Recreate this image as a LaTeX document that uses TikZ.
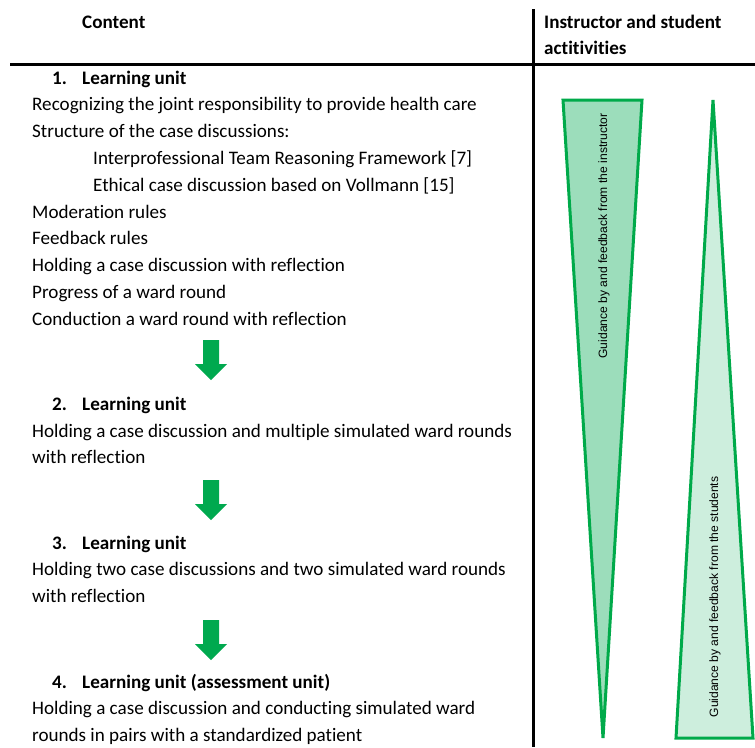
\documentclass[tikz,border=0pt]{standalone}
\usepackage{fontspec}
\setmainfont[Ligatures={NoCommon}]{Carlito}
\newfontfamily\arialf{Liberation Sans}
\definecolor{linegreen}{HTML}{00AA4A}
\definecolor{arrowgreen}{HTML}{00A94F}
\definecolor{fillA}{HTML}{9CDDBB}
\definecolor{fillB}{HTML}{CDEEDD}
\begin{document}
\begin{tikzpicture}[x=1pt,y=-1pt,
  txt/.style={anchor=base west, inner sep=0pt, font=\fontsize{19.1}{22}\selectfont},
  hdr/.style={anchor=base west, inner sep=0pt, font=\fontsize{19.1}{22}\selectfont\bfseries},
  tri/.style={draw=linegreen, line width=3pt, line join=miter},
  trilabel/.style={rotate=90, inner sep=0pt, font=\arialf\fontsize{12.1}{14}\selectfont},
  garrow/.pic={\fill[arrowgreen] (-8,0) -- (8,0) -- (8,24) -- (16,24) -- (0,40) -- (-16,24) -- (-8,24) -- cycle;}
]
\useasboundingbox (0,0) rectangle (755,747);
% grid lines
\draw[line width=2.4pt] (533.5,9) -- (533.5,747);
\draw[line width=2.6pt] (10,64.5) -- (755,64.5);
% headers
\node[hdr] (hc) at (82,28) {Content};
\node[hdr] (hi1) at (544,28) {Instructor and student};
\node[hdr] (hi2) at (544,54) {actitivities};
% unit 1
\node[hdr] (n1) at (52,84) {1.};
\node[hdr] (u1) at (82,84) {Learning unit};
\node[txt] (l1a) at (32,110) {Recognizing the joint responsibility to provide health care};
\node[txt] (l1b) at (32,137) {Structure of the case discussions:};
\node[txt] (l1c) at (93,164) {Interprofessional Team Reasoning Framework [7]};
\node[txt] (l1d) at (93,191) {Ethical case discussion based on Vollmann [15]};
\node[txt] (l1e) at (32,218) {Moderation rules};
\node[txt] (l1f) at (32,244) {Feedback rules};
\node[txt] (l1g) at (32,271) {Holding a case discussion with reflection};
\node[txt] (l1h) at (32,298) {Progress of a ward round};
\node[txt] (l1i) at (32,325) {Conduction a ward round with reflection};
\pic at (211,340) {garrow};
% unit 2
\node[hdr] (n2) at (52,410) {2.};
\node[hdr] (u2) at (82,410) {Learning unit};
\node[txt] (l2a) at (32,437) {Holding a case discussion and multiple simulated ward rounds};
\node[txt] (l2b) at (32,463) {with reflection};
\pic at (211,480) {garrow};
% unit 3
\node[hdr] (n3) at (52,549) {3.};
\node[hdr] (u3) at (82,549) {Learning unit};
\node[txt] (l3a) at (32,575) {Holding two case discussions and two simulated ward rounds};
\node[txt] (l3b) at (32,602) {with reflection};
\pic at (211,620) {garrow};
% unit 4
\node[hdr] (n4) at (52,688) {4.};
\node[hdr] (u4) at (82,688) {Learning unit (assessment unit)};
\node[txt] (l4a) at (32,714) {Holding a case discussion and conducting simulated ward};
\node[txt] (l4b) at (32,741) {rounds in pairs with a standardized patient};
% triangles
\draw[tri, fill=fillA] (563,100) -- (642,100) -- (603,738) -- cycle;
\draw[tri, fill=fillB] (713,100) -- (753,738) -- (676,738) -- cycle;
\node[trilabel] (ti) at (604,236) {Guidance by and feedback from the instructor};
\node[trilabel] (ts) at (715,597) {Guidance by and feedback from the students};
\end{tikzpicture}
\end{document}
